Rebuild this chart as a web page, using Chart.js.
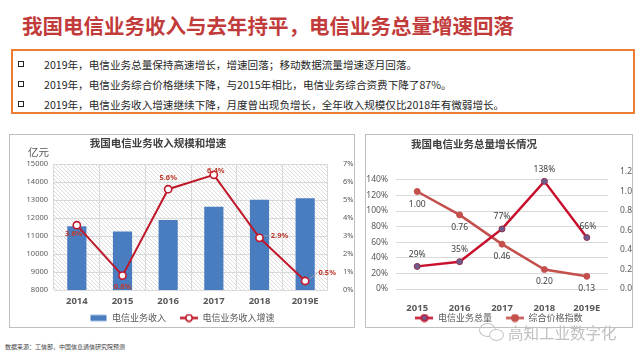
<!DOCTYPE html>
<html><head><meta charset="utf-8">
<script src="https://cdn.jsdelivr.net/npm/chart.js@4.4.1/dist/chart.umd.min.js"></script>
<style>
body{margin:0;width:640px;height:360px;background:#fff;position:relative;overflow:hidden;font-family:"Noto Sans CJK SC","Noto Sans",sans-serif;}
.abs{position:absolute;white-space:nowrap;}
#title{left:22px;top:13px;font-size:20.5px;font-weight:bold;color:#c23b3b;line-height:24px;}
#box{position:absolute;left:11px;top:49px;width:620px;height:61px;border:2px solid #ed7d31;}
.bl{position:absolute;left:31px;font-size:10.6px;color:#262626;line-height:14px;white-space:nowrap;}
.sq{position:absolute;left:5px;width:4px;height:4px;border:1.5px solid #262626;}
.panel{position:absolute;top:134px;height:194px;border:1px solid #bfbfbf;box-sizing:border-box;}
.panel canvas{position:absolute;left:0;top:0;}
.ct{position:absolute;width:220px;text-align:center;font-size:10.5px;font-weight:bold;color:#404040;line-height:14px;white-space:nowrap;}
</style></head>
<body>
<div id="title" class="abs">我国电信业务收入与去年持平，电信业务总量增速回落</div>
<div id="box">
  <div class="sq" style="top:10px"></div><div class="bl" style="top:7px">2019年，电信业务总量保持高速增长，增速回落；移动数据流量增速逐月回落。</div>
  <div class="sq" style="top:30px"></div><div class="bl" style="top:27px">2019年，电信业务综合价格继续下降，与2015年相比，电信业务综合资费下降了87%。</div>
  <div class="sq" style="top:50px"></div><div class="bl" style="top:47px">2019年，电信业务收入增速继续下降，月度曾出现负增长，全年收入规模仅比2018年有微弱增长。</div>
</div>
<div class="panel" style="left:9px;width:346px;"><canvas id="c1" width="344" height="192"></canvas></div>
<div class="panel" style="left:365px;width:268px;"><canvas id="c2" width="266" height="192"></canvas></div>
<div class="ct" style="left:48px;top:136px;">我国电信业务收入规模和增速</div>
<div class="ct" style="left:364px;top:137px;">我国电信业务总量增长情况</div>
<div class="abs" style="left:28px;top:146px;font-size:10.5px;color:#595959;line-height:12px;">亿元</div>
<div class="abs" style="left:5px;top:343px;font-size:6px;color:#404040;line-height:8px;">数据来源：工信部，中国信息通信研究院预测</div>
<div class="abs" style="left:479px;top:323px;width:15px;height:12px;border:1.5px solid #c4c4c4;border-radius:50%;"></div>
<div class="abs" style="left:489px;top:329px;width:13px;height:10px;border:1.5px solid #c4c4c4;border-radius:50%;background:#fff;"></div>
<div class="abs" style="left:508px;top:322px;font-size:15.5px;color:#c0c0c0;line-height:20px;">高知工业数字化</div>
<script>
// ---- data ----
const years1 = ['2014', '2015', '2016', '2017', '2018', '2019E'];
const revenue = [11541, 11251, 11893, 12620, 13010, 13100];
const revenueGrowth = [3.6, 0.8, 5.6, 6.4, 2.9, 0.5];
const revenueTicks = [8000, 9000, 10000, 11000, 12000, 13000, 14000, 15000];
const growthTicks = [0, 1, 2, 3, 4, 5, 6, 7];

const years2 = ['2015', '2016', '2017', '2018', '2019E'];
const volumeGrowth = [29, 35, 77, 138, 66];
const priceIndex = [1.00, 0.76, 0.46, 0.20, 0.13];
const volumeTicks = [0, 20, 40, 60, 80, 100, 120, 140];
const priceTicks = [0, 0.2, 0.4, 0.6, 0.8, 1.0, 1.2];

// ---- styling helpers ----
Chart.defaults.font.family = '"Noto Sans","Noto Sans CJK SC",sans-serif';
Chart.defaults.color = '#595959';

const BLUE = '#4a7dc0', RED1 = '#c0182a', RED2 = '#c8102e', RED3 = '#c4504d', PURPLE = '#6f5b8c';
const LEG = '#595959';

function hatchPattern(ctx) {
  const c = document.createElement('canvas'); c.width = 4; c.height = 4;
  const x = c.getContext('2d');
  x.fillStyle = '#ffffff'; x.fillRect(0, 0, 4, 4);
  x.strokeStyle = '#dedede'; x.lineWidth = 1;
  x.beginPath();
  x.moveTo(-1, -1); x.lineTo(5, 5);
  x.moveTo(-1, 3); x.lineTo(1, 5);
  x.moveTo(3, -1); x.lineTo(5, 1);
  x.stroke();
  return ctx.createPattern(c, 'repeat');
}
function legendImg(kind, color, fill) {
  const c = document.createElement('canvas'); c.width = 18; c.height = 9;
  const x = c.getContext('2d');
  if (kind === 'bar') { x.fillStyle = color; x.fillRect(1, 1.5, 16, 6); }
  else {
    x.strokeStyle = color; x.lineWidth = 2.5;
    x.beginPath(); x.moveTo(0, 4.5); x.lineTo(18, 4.5); x.stroke();
    x.beginPath(); x.arc(9, 4.5, 3.2, 0, Math.PI * 2);
    x.fillStyle = fill; x.fill(); x.lineWidth = 1.5; x.stroke();
  }
  return c;
}

const plotBg = {
  id: 'plotBg',
  beforeDraw(chart, args, opts) {
    if (!opts.hatch) return;
    const {ctx, chartArea: a} = chart;
    ctx.save(); ctx.fillStyle = hatchPattern(ctx);
    ctx.fillRect(a.left, a.top, a.right - a.left, a.bottom - a.top);
    ctx.restore();
  }
};
const pointLabels = {
  id: 'pointLabels',
  afterDatasetsDraw(chart, args, opts) {
    const ctx = chart.ctx;
    (opts.sets || []).forEach(s => {
      const meta = chart.getDatasetMeta(s.index);
      const data = chart.data.datasets[s.index].data;
      ctx.save();
      ctx.font = s.font; ctx.textAlign = 'center'; ctx.textBaseline = 'middle';
      meta.data.forEach((el, i) => {
        const off = s.offsets[i];
        const txt = s.format(data[i]);
        const x = el.x + off[0], y = el.y + off[1];
        if (off[2]) {
          const w = ctx.measureText(txt).width;
          ctx.strokeStyle = '#a6a6a6'; ctx.lineWidth = 0.8;
          ctx.beginPath(); ctx.moveTo(el.x + 4, el.y - 2); ctx.lineTo(x - w / 2 - 1, y); ctx.stroke();
        }
        ctx.fillStyle = s.color;
        ctx.fillText(txt, x, y);
      });
      ctx.restore();
    });
  }
};
const legendPlace = {
  id: 'legendPlace',
  afterInit(chart, args, opts) {
    const L = chart.legend; const f = L.fit;
    const h = opts.height;
    L.fit = function () { f.call(this); this.height = h; };
  },
  afterLayout(chart, args, opts) {
    const L = chart.legend;
    L.top = opts.centerY - opts.pad - opts.fs / 2;
    L.bottom = opts.centerY + opts.fs;
  }
};

const fixedTicks = arr => (s => { s.ticks = arr.map(v => ({value: v})); });
const item = (text, img, idx, color) => ({text, pointStyle: img, datasetIndex: idx, fillStyle: color,
  strokeStyle: color, fontColor: LEG, lineWidth: 0, hidden: false});

// ---- chart 1 ----
new Chart(document.getElementById('c1'), {
  data: {
    labels: years1,
    datasets: [
      {type: 'line', label: '电信业务收入增速', data: revenueGrowth, yAxisID: 'y1',
       borderColor: RED1, borderWidth: 2, pointRadius: 3.6, pointBorderWidth: 1.6,
       pointBackgroundColor: '#fff', pointBorderColor: RED1, order: 0},
      {type: 'bar', label: '电信业务收入', data: revenue, yAxisID: 'y',
       backgroundColor: BLUE, barPercentage: 0.42, categoryPercentage: 1, order: 1}
    ]
  },
  options: {
    responsive: false, animation: false,
    layout: {padding: {left: 0, right: 0, top: 29, bottom: 1}},
    scales: {
      x: {grid: {offset: true, color: '#d9d9d9', drawTicks: false}, border: {display: false},
          ticks: {font: {size: 9.5, weight: 'bold'}, padding: 6, color: '#595959'},
          afterFit: s => { s.height = 22; }},
      y: {position: 'left', min: 8000, max: 15000, afterBuildTicks: fixedTicks(revenueTicks),
          grid: {color: '#d9d9d9', drawTicks: false}, border: {display: false},
          ticks: {font: {size: 7.5}, padding: 6, callback: v => String(v)},
          afterFit: s => { s.width = 44; }},
      y1: {position: 'right', min: 0, max: 7, afterBuildTicks: fixedTicks(growthTicks),
           grid: {display: false}, border: {display: false},
           ticks: {font: {size: 7.5}, padding: 7, callback: v => v + '%'},
           afterFit: s => { s.width = 26; }}
    },
    plugins: {
      tooltip: {enabled: false},
      legend: {position: 'bottom',
        labels: {font: {size: 9}, color: LEG, padding: 14, usePointStyle: true, pointStyleWidth: 18,
          generateLabels: chart => [
            item('电信业务收入', legendImg('bar', BLUE), 1, BLUE),
            item('电信业务收入增速', legendImg('line', RED1, '#fff'), 0, RED1)
          ]}},
      legendPlace: {height: 14, centerY: 183, pad: 14, fs: 9},
      plotBg: {hatch: true},
      pointLabels: {sets: [
        {index: 0, font: 'bold 7.5px "Noto Sans",sans-serif', color: '#c0392b', format: v => v.toFixed(1) + '%',
         offsets: [[-3, 9], [0, 11], [0, -11], [2, -4], [20, -2, 1], [22, -8, 1]]}
      ]}
    }
  },
  plugins: [plotBg, pointLabels, legendPlace]
});

// ---- chart 2 ----
new Chart(document.getElementById('c2'), {
  type: 'line',
  data: {
    labels: years2,
    datasets: [
      {label: '电信业务总量', data: volumeGrowth, yAxisID: 'y',
       borderColor: RED2, borderWidth: 2.5, pointRadius: 3, pointBorderWidth: 1,
       pointBackgroundColor: PURPLE, pointBorderColor: '#8e3050'},
      {label: '综合价格指数', data: priceIndex, yAxisID: 'y1',
       borderColor: RED3, borderWidth: 2.5, pointRadius: 3, pointBorderWidth: 1,
       pointBackgroundColor: RED3, pointBorderColor: RED3}
    ]
  },
  options: {
    responsive: false, animation: false,
    layout: {padding: {left: 0, right: 0, top: 37, bottom: 1}},
    scales: {
      x: {offset: true, grid: {display: false}, border: {display: false},
          ticks: {font: {size: 9.5, weight: 'bold'}, padding: 6, color: '#595959'},
          afterFit: s => { s.height = 24; }},
      y: {position: 'left', min: 0, max: 150, afterBuildTicks: fixedTicks(volumeTicks),
          grid: {color: '#d9d9d9', drawTicks: false}, border: {display: false},
          ticks: {font: {size: 8.5}, padding: 8, callback: v => v + '%'},
          afterFit: s => { s.width = 30; }},
      y1: {position: 'right', min: 0, max: 1.2, afterBuildTicks: fixedTicks(priceTicks),
           grid: {display: false}, border: {display: false},
           ticks: {font: {size: 8.5}, padding: 4, callback: v => v.toFixed(1)},
           afterFit: s => { s.width = 24; }}
    },
    plugins: {
      tooltip: {enabled: false},
      legend: {position: 'bottom',
        labels: {font: {size: 9}, color: LEG, padding: 14, usePointStyle: true, pointStyleWidth: 18,
          generateLabels: chart => [
            item('电信业务总量', legendImg('line', RED2, PURPLE), 0, RED2),
            item('综合价格指数', legendImg('line', RED3, RED3), 1, RED3)
          ]}},
      legendPlace: {height: 13, centerY: 183, pad: 14, fs: 9},
      plotBg: {hatch: false},
      pointLabels: {sets: [
        {index: 0, font: '8.5px "Noto Sans",sans-serif', color: '#404040', format: v => v + '%',
         offsets: [[0, -12], [0, -12], [0, -12], [0, -12], [1, -11]]},
        {index: 1, font: '8.5px "Noto Sans",sans-serif', color: '#404040', format: v => v.toFixed(2),
         offsets: [[0, 13], [0, 13], [0, 12], [0, 12], [0, 12]]}
      ]}
    }
  },
  plugins: [plotBg, pointLabels, legendPlace]
});
</script>
</body></html>
